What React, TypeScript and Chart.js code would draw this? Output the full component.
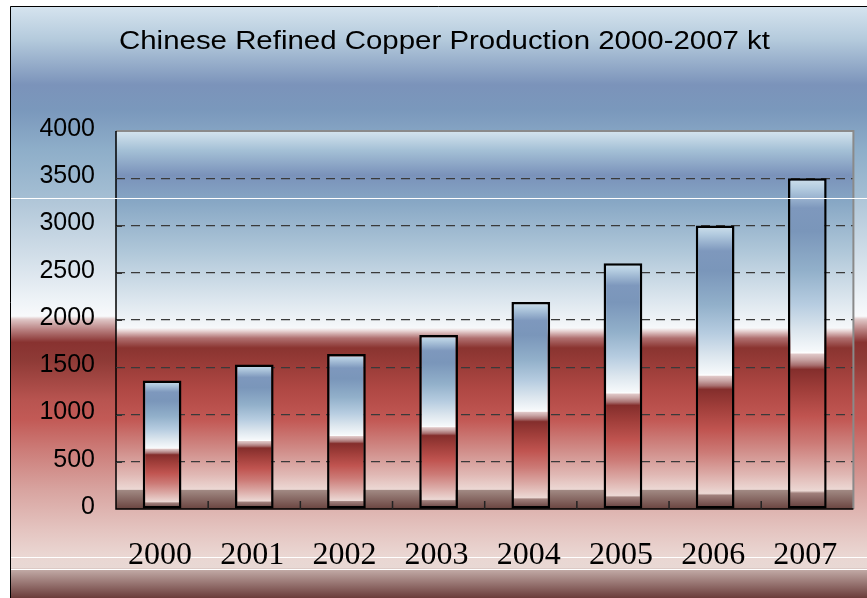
import React, { useEffect, useRef } from 'react';
import { Chart, registerables } from 'chart.js';

Chart.register(...registerables);

// ---- data ----
const categories: string[] = ['2000', '2001', '2002', '2003', '2004', '2005', '2006', '2007'];
const production: number[] = [1360, 1530, 1640, 1840, 2190, 2600, 3000, 3500];
const yMin = 0;
const yMax = 4000;
const yStep = 500;
const titleText = 'Chinese Refined Copper Production 2000-2007 kt';

// ---- styles (gradient stops, fraction from top) ----
const outerStops: [number, string][] = [
  [0.0, '#d6e4ef'],
  [0.057, '#b4cadc'],
  [0.133, '#7b93ba'],
  [0.176, '#7a98bc'],
  [0.243, '#8eaec9'],
  [0.323, '#a4bed3'],
  [0.328, '#b0c6d8'],
  [0.429, '#d4e0ea'],
  [0.497, '#eef3f7'],
  [0.524, '#f8f9fb'],
  [0.529, '#e0c8c8'],
  [0.547, '#b88080'],
  [0.568, '#883230'],
  [0.598, '#8e3a36'],
  [0.666, '#b85450'],
  [0.699, '#c25a56'],
  [0.75, '#cc7c78'],
  [0.818, '#d8a4a0'],
  [0.885, '#e4c4c0'],
  [0.927, '#ead6d2'],
  [0.949, '#e8d8d4'],
  [0.953, '#c0a8a4'],
  [1.0, '#6a3c3a'],
];

const plotStops: [number, string][] = [
  [0.0, '#d4e4ee'],
  [0.051, '#a4c0d6'],
  [0.117, '#7a92ba'],
  [0.183, '#86a6c4'],
  [0.315, '#aec6d8'],
  [0.447, '#dce6ee'],
  [0.521, '#f6f8fa'],
  [0.529, '#e8d4d4'],
  [0.548, '#b07070'],
  [0.574, '#8a3430'],
  [0.685, '#b04844'],
  [0.764, '#c25854'],
  [0.843, '#d08c88'],
  [0.909, '#e0b8b4'],
  [0.948, '#ecd8d4'],
  [0.951, '#a08882'],
  [1.0, '#6a4440'],
];

const barStops: [number, string][] = [
  [0.0, '#cfe0ec'],
  [0.03, '#b4cce0'],
  [0.09, '#7e98bd'],
  [0.16, '#7a96ba'],
  [0.28, '#92b0ca'],
  [0.38, '#b6cce0'],
  [0.46, '#dce6ee'],
  [0.522, '#f6f9fb'],
  [0.528, '#ffffff'],
  [0.532, '#e0c8c8'],
  [0.548, '#c8a4a4'],
  [0.565, '#a87070'],
  [0.578, '#842e2c'],
  [0.64, '#a03e3a'],
  [0.72, '#c05450'],
  [0.8, '#cc7a76'],
  [0.87, '#daa6a2'],
  [0.945, '#ecd8d4'],
  [0.952, '#a0807c'],
  [1.0, '#5e3836'],
];

const decorPlugin = {
  id: 'decor',
  beforeDraw(chart: any) {
    const { ctx, width, height, chartArea } = chart;
    ctx.save();
    ctx.fillStyle = '#ffffff';
    ctx.fillRect(0, 0, width, height);
    const fx = 10;
    const fy = 6;
    const og = ctx.createLinearGradient(0, fy, 0, height);
    outerStops.forEach(([t, c]) => og.addColorStop(t, c));
    ctx.fillStyle = og;
    ctx.fillRect(fx, fy, width - fx, height - fy);

    // seams at bottom
    ctx.strokeStyle = '#ffffff';
    ctx.lineWidth = 1;
    [557.5, 569.5].forEach((yy) => {
      ctx.beginPath();
      ctx.moveTo(fx + 1, yy);
      ctx.lineTo(width, yy);
      ctx.stroke();
    });

    // frame
    ctx.strokeStyle = '#000000';
    ctx.lineWidth = 1;
    ctx.beginPath();
    ctx.moveTo(fx + 0.5, height);
    ctx.lineTo(fx + 0.5, fy + 0.5);
    ctx.lineTo(width, fy + 0.5);
    ctx.stroke();

    // plot area background
    const { left, top, right, bottom } = chartArea;
    const pg = ctx.createLinearGradient(0, top, 0, bottom);
    plotStops.forEach(([t, c]) => pg.addColorStop(t, c));
    ctx.fillStyle = pg;
    ctx.fillRect(left, top, right - left, bottom - top);

    // title
    ctx.font = '26px "Liberation Sans", Arial, sans-serif';
    ctx.fillStyle = '#000000';
    ctx.textBaseline = 'alphabetic';
    ctx.textAlign = 'center';
    const w = ctx.measureText(titleText).width;
    const targetW = 651;
    const sx = targetW / w;
    ctx.translate(444.5, 49);
    ctx.scale(sx, 1);
    ctx.fillText(titleText, 0, 0);
    ctx.restore();
  },
  afterDatasetsDraw(chart: any) {
    const { ctx, width, chartArea, scales } = chart;
    const { left, top, right, bottom } = chartArea;
    ctx.save();
    // plot area top/right border (gray)
    ctx.strokeStyle = '#8a8a8a';
    ctx.lineWidth = 2;
    ctx.beginPath();
    ctx.moveTo(left, top);
    ctx.lineTo(right, top);
    ctx.lineTo(right, bottom);
    ctx.stroke();
    // axes
    ctx.strokeStyle = '#000000';
    ctx.lineWidth = 1.5;
    ctx.beginPath();
    ctx.moveTo(left, top);
    ctx.lineTo(left, bottom);
    ctx.lineTo(right, bottom);
    ctx.stroke();
    // x inside ticks at category boundaries
    const xs = scales.x;
    const n = categories.length;
    ctx.lineWidth = 1.5;
    ctx.strokeStyle = '#222222';
    for (let i = 1; i < n; i++) {
      const px = (xs.getPixelForValue(i - 1) + xs.getPixelForValue(i)) / 2;
      ctx.beginPath();
      ctx.moveTo(px, bottom);
      ctx.lineTo(px, bottom - 8);
      ctx.stroke();
    }
    // y inside ticks
    const ys = scales.y;
    ctx.lineWidth = 1;
    ctx.strokeStyle = '#333333';
    for (let v = yMin + yStep; v < yMax; v += yStep) {
      const py = Math.round(ys.getPixelForValue(v)) + 0.5;
      ctx.beginPath();
      ctx.moveTo(left, py);
      ctx.lineTo(left + 6, py);
      ctx.stroke();
    }
    // white seam line across upper part
    ctx.strokeStyle = '#ffffff';
    ctx.lineWidth = 1;
    ctx.beginPath();
    ctx.moveTo(11, 198.5);
    ctx.lineTo(width, 198.5);
    ctx.stroke();
    ctx.restore();
  },
};

export default function App() {
  const canvasRef = useRef<HTMLCanvasElement | null>(null);

  useEffect(() => {
    if (!canvasRef.current) return;
    const chart = new Chart(canvasRef.current, {
      type: 'bar',
      data: {
        labels: categories,
        datasets: [
          {
            label: 'Production',
            data: production,
            backgroundColor: (c: any) => {
              const ch = c.chart;
              if (!ch.chartArea || !ch.scales || !ch.scales.y) return '#8aa6c4';
              const ys = ch.scales.y;
              const v = typeof c.raw === 'number' ? c.raw : 0;
              const t = ys.getPixelForValue(v);
              const b = ys.getPixelForValue(0);
              const g = ch.ctx.createLinearGradient(0, t, 0, b);
              barStops.forEach(([s, col]) => g.addColorStop(s, col));
              return g;
            },
            borderColor: '#000000',
            borderWidth: 2.5,
            borderSkipped: false,
            barPercentage: 0.42,
            categoryPercentage: 1,
          },
        ],
      },
      options: {
        responsive: false,
        animation: false,
        devicePixelRatio: 1,
        layout: { padding: { top: 131, left: 0, right: 11, bottom: 0 } },
        plugins: {
          legend: { display: false },
          title: { display: false },
          tooltip: { enabled: false },
        },
        scales: {
          x: {
            offset: true,
            grid: { display: false, drawTicks: false },
            border: { display: false },
            ticks: {
              color: '#000000',
              font: { family: '"Liberation Serif", "Times New Roman", serif', size: 32 },
              padding: 27,
              labelOffset: -2,
              maxRotation: 0,
              autoSkip: false,
            },
            afterFit: (s: any) => {
              s.height = 89;
            },
          },
          y: {
            min: yMin,
            max: yMax,
            grid: {
              drawTicks: false,
              color: (c: any) =>
                c.tick && (c.tick.value === yMin || c.tick.value === yMax) ? 'rgba(0,0,0,0)' : '#3a3a3a',
              lineWidth: 1.2,
            },
            border: { display: false, dash: [9, 6] },
            ticks: {
              stepSize: yStep,
              color: '#000000',
              font: { family: '"Liberation Sans", Arial, sans-serif', size: 25 },
              padding: 21,
              labelOffset: -2,
              callback: (v: any) => String(v),
            },
            afterFit: (s: any) => {
              s.width = 116;
            },
          },
        },
      },
      plugins: [decorPlugin],
    } as any);
    return () => chart.destroy();
  }, []);

  return (
    <div style={{ position: 'fixed', left: 0, top: 0, width: 867, height: 598 }}>
      <canvas ref={canvasRef} width={867} height={598} style={{ display: 'block' }} />
    </div>
  );
}
